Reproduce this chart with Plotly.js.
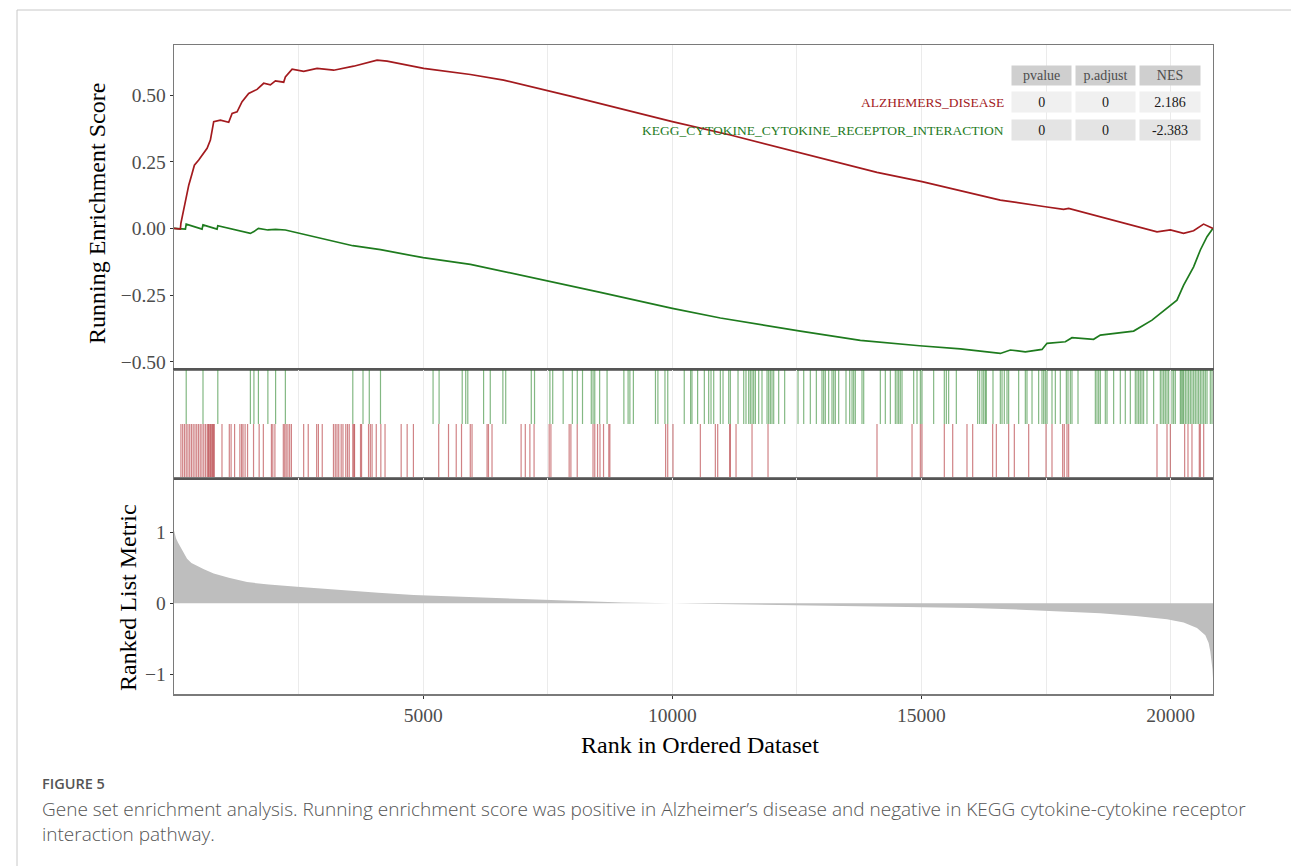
<!DOCTYPE html>
<html>
<head>
<meta charset="utf-8">
<script src="https://cdn.plot.ly/plotly-3.0.1.min.js"></script>
<style>html,body{margin:0;padding:0;background:#fff;}#chart{width:1291px;height:866px;}</style>
</head>
<body>
<div id="chart"></div>
<script>
// ---------------- data ----------------
const nGenes = 20851;
const xTickVals = [5000, 10000, 15000, 20000];
const xTickText = ['5000', '10000', '15000', '20000'];
const esTickVals = [-0.5, -0.25, 0, 0.25, 0.5];
const esTickText = ['\u22120.50', '\u22120.25', '0.00', '0.25', '0.50'];
const metricTickVals = [-1, 0, 1];
const metricTickText = ['\u22121', '0', '1'];

const setNames = ['ALZHEMERS_DISEASE', 'KEGG_CYTOKINE_CYTOKINE_RECEPTOR_INTERACTION'];
const tableHeader = ['pvalue', 'p.adjust', 'NES'];
const pvalues = ['0', '0'];
const padjust = ['0', '0'];
const nes = ['2.186', '-2.383'];

// running enrichment score, Alzheimer's disease
const esRedRank = [0, 128, 139, 195, 249, 296, 363, 409, 496, 596, 664, 730, 797, 931, 1098, 1166, 1266, 1366, 1499, 1667, 1800, 1934, 2035, 2201, 2235, 2370, 2603, 2871, 3205, 3606, 3941, 4075, 4276, 5011, 5948, 6616, 7954, 9160, 10000, 11165, 12405, 14108, 15011, 16582, 17486, 17853, 17954, 19727, 19995, 20260, 20461, 20662, 20851];
const esRedVal = [0, -0.003, 0.02, 0.075, 0.118, 0.162, 0.206, 0.237, 0.256, 0.281, 0.30, 0.331, 0.40, 0.406, 0.398, 0.431, 0.437, 0.475, 0.506, 0.521, 0.544, 0.538, 0.553, 0.548, 0.568, 0.597, 0.589, 0.600, 0.593, 0.608, 0.625, 0.631, 0.627, 0.600, 0.577, 0.556, 0.496, 0.44, 0.40, 0.35, 0.29, 0.21, 0.175, 0.106, 0.081, 0.071, 0.075, -0.013, -0.006, -0.019, -0.009, 0.016, 0.0];

// running enrichment score, KEGG cytokine-cytokine receptor interaction
const esGreenRank = [0, 229, 245, 563, 582, 864, 879, 1533, 1604, 1694, 1884, 2039, 2235, 3072, 3588, 4144, 5000, 5948, 7553, 8557, 10000, 10965, 12570, 13774, 14960, 15782, 16583, 16784, 17085, 17420, 17520, 17888, 18021, 18455, 18590, 19258, 19627, 19928, 20128, 20262, 20462, 20597, 20731, 20851];
const esGreenVal = [0, -0.003, 0.016, -0.003, 0.013, -0.003, 0.01, -0.019, -0.012, 0.0, -0.006, -0.004, -0.006, -0.044, -0.065, -0.08, -0.11, -0.135, -0.198, -0.24, -0.30, -0.336, -0.385, -0.42, -0.44, -0.452, -0.469, -0.456, -0.463, -0.454, -0.431, -0.425, -0.41, -0.416, -0.40, -0.385, -0.344, -0.30, -0.269, -0.213, -0.144, -0.081, -0.031, 0.0];

// gene hit positions in the ranked list
const redHits = [139, 174, 210, 245, 280, 315, 350, 385, 421, 456, 491, 526, 561, 597, 632, 667, 688, 702, 723, 737, 759, 773, 794, 808, 963, 1110, 1146, 1216, 1322, 1357, 1385, 1427, 1476, 1596, 1709, 1793, 1955, 1983, 2025, 2194, 2222, 2251, 2286, 2321, 2356, 2602, 2694, 2863, 2898, 2975, 3200, 3236, 3271, 3306, 3355, 3391, 3447, 3482, 3517, 3588, 3609, 3623, 3743, 3764, 3904, 3940, 3975, 4059, 4151, 4235, 4559, 4679, 4805, 5312, 5509, 5664, 5770, 5946, 5981, 6283, 6311, 6382, 6966, 7050, 7142, 7226, 7529, 7564, 7930, 7965, 8092, 8409, 8444, 8500, 8549, 8620, 8726, 8747, 9866, 9908, 10014, 10563, 10864, 10911, 11152, 11165, 11279, 11600, 11921, 14108, 14811, 14978, 15011, 15459, 15627, 15914, 16028, 16429, 16503, 16750, 16864, 17152, 17500, 17620, 17834, 17867, 17921, 17954, 19727, 19928, 19995, 20282, 20349, 20429, 20576, 20597, 20664];
const greenHits = [245, 582, 879, 1533, 1604, 1694, 1884, 2039, 2235, 3588, 3793, 3919, 4144, 5199, 5320, 5784, 5854, 5896, 6213, 6347, 6600, 6657, 7170, 7235, 7544, 7600, 7810, 7994, 8093, 8198, 8374, 8410, 8444, 8542, 8691, 9028, 9113, 9149, 9219, 9662, 9711, 9853, 9909, 10240, 10367, 10395, 10508, 10643, 10730, 10777, 10831, 10964, 11018, 11132, 11165, 11319, 11433, 11479, 11533, 11566, 11600, 11633, 11667, 11734, 11800, 11901, 11934, 11968, 12001, 12035, 12135, 12255, 12523, 12637, 12770, 12891, 13004, 13038, 13071, 13138, 13205, 13239, 13272, 13339, 13486, 13560, 13607, 13640, 13673, 13807, 13841, 14175, 14275, 14376, 14476, 14510, 14543, 14576, 14610, 14844, 14911, 14978, 15011, 15245, 15459, 15500, 15546, 15700, 16128, 16168, 16215, 16249, 16282, 16302, 16436, 16583, 16617, 16663, 16717, 16750, 16951, 17085, 17118, 17219, 17352, 17419, 17453, 17486, 17520, 17620, 17687, 17787, 17908, 17941, 17988, 18021, 18142, 18490, 18523, 18557, 18590, 18690, 18724, 18857, 18991, 19091, 19192, 19292, 19325, 19359, 19392, 19426, 19459, 19526, 19660, 19794, 19827, 19861, 19894, 19928, 19961, 20028, 20061, 20095, 20195, 20215, 20242, 20262, 20296, 20329, 20362, 20396, 20429, 20463, 20496, 20530, 20563, 20597, 20630, 20664, 20697, 20731, 20797, 20831];

// ranked list metric
const metricRank = [1, 14, 40, 80, 128, 190, 262, 350, 462, 600, 797, 1100, 1466, 1900, 2470, 3000, 3473, 4100, 4810, 5500, 6148, 7000, 7500, 8300, 9000, 10000, 11000, 12000, 13500, 15000, 16000, 17000, 18000, 18590, 19300, 19928, 20262, 20530, 20697, 20764, 20797, 20825, 20840, 20851];
const metricVal = [1.03, 0.99, 0.92, 0.86, 0.80, 0.71, 0.63, 0.57, 0.525, 0.48, 0.42, 0.36, 0.30, 0.265, 0.235, 0.205, 0.18, 0.15, 0.117, 0.10, 0.085, 0.062, 0.05, 0.03, 0.012, 0.0, -0.01, -0.02, -0.035, -0.05, -0.065, -0.09, -0.115, -0.14, -0.18, -0.226, -0.27, -0.35, -0.45, -0.56, -0.68, -0.82, -0.93, -1.06];

// ---------------- styling / layout ----------------
const W = 1291, H = 866;
const PX = p => p / W;
const PY = p => 1 - p / H;
const RED = '#A31A1E', GREEN = '#1E7B1E';
const serif = 'Liberation Serif, Times New Roman, serif';
const GRID = '#EBEBEB', BORDER = '#7a7a7a';

const traces = [
  {type: 'scatter', mode: 'lines', x: metricRank, y: metricVal, xaxis: 'x3', yaxis: 'y3',
   fill: 'tozeroy', fillcolor: '#BEBEBE', line: {width: 0, color: '#BEBEBE'}, hoverinfo: 'skip'},
  {type: 'bar', x: redHits, y: redHits.map(() => 1), base: 0, width: 24, xaxis: 'x2', yaxis: 'y2',
   marker: {color: 'rgba(170,30,34,0.55)', line: {width: 0}}, hoverinfo: 'skip'},
  {type: 'bar', x: greenHits, y: greenHits.map(() => 1), base: 1, width: 24, xaxis: 'x2', yaxis: 'y2',
   marker: {color: 'rgba(30,125,30,0.55)', line: {width: 0}}, hoverinfo: 'skip'},
  {type: 'scatter', mode: 'lines', x: esGreenRank, y: esGreenVal, name: setNames[1],
   line: {color: GREEN, width: 1.7}, xaxis: 'x', yaxis: 'y'},
  {type: 'scatter', mode: 'lines', x: esRedRank, y: esRedVal, name: setNames[0],
   line: {color: RED, width: 1.7}, xaxis: 'x', yaxis: 'y'}
];

const xBase = {
  domain: [PX(174), PX(1213)], range: [0, nGenes], showgrid: true, gridcolor: GRID, gridwidth: 1,
  tickvals: xTickVals, ticktext: xTickText, zeroline: false,
  showline: true, mirror: true, linecolor: BORDER, linewidth: 1.3,
  minor: {dtick: 2500, tick0: 0, showgrid: true, gridcolor: GRID, gridwidth: 1, ticks: ''},
  fixedrange: true
};
const yBase = {zeroline: false, showgrid: false, showline: true, mirror: true, linecolor: BORDER, linewidth: 1.3, fixedrange: true};
const tickFont = {family: serif, size: 19.5, color: '#4D4D4D'};

const annotations = [];
function ann(text, px, py, o) {
  annotations.push(Object.assign({xref: 'paper', yref: 'paper', x: PX(px), y: PY(py), text: text,
    showarrow: false, xanchor: 'center', yanchor: 'middle'}, o || {}));
}
// axis titles
ann('Running Enrichment Score', 97, 214, {textangle: -90, font: {family: serif, size: 24, color: '#000'}});
ann('Ranked List Metric', 128, 598, {textangle: -90, font: {family: serif, size: 24, color: '#000'}});
ann('Rank in Ordered Dataset', 700, 745, {font: {family: serif, size: 24, color: '#000'}});

// table
const colCx = [1041.4, 1105.5, 1170];
const colW = [59.3, 59, 60];
const rowCy = [102.3, 130];
const rowBg = ['#F0F0F0', '#E4E4E4'];
const tblFont = {family: serif, size: 14, color: '#1a1a1a'};
tableHeader.forEach((h, i) => ann(h, colCx[i], 75.3, {width: colW[i] - 2, height: 16.6, borderpad: 1, bgcolor: '#CFCFCF',
  font: {family: serif, size: 14, color: '#4D4D4D'}}));
const rowsVals = [[pvalues[0], padjust[0], nes[0]], [pvalues[1], padjust[1], nes[1]]];
rowsVals.forEach((row, r) => row.forEach((v, i) => ann(v, colCx[i], rowCy[r], {width: colW[i] - 2, height: 18, borderpad: 1,
  bgcolor: rowBg[r], font: tblFont})));
ann(setNames[0], 1006, rowCy[0], {xanchor: 'right', font: {family: serif, size: 13.5, color: RED}});
ann(setNames[1], 1006, rowCy[1], {xanchor: 'right', font: {family: serif, size: 13.5, color: GREEN}});

// caption
const capFont = 'Open Sans, Noto Sans, sans-serif';
ann('FIGURE 5', 40, 783, {xanchor: 'left', font: {family: capFont, size: 14.5, color: '#555', weight: 600}});
ann('Gene set enrichment analysis. Running enrichment score was positive in Alzheimer\u2019s disease and negative in KEGG cytokine-cytokine receptor',
  40, 809, {xanchor: 'left', font: {family: capFont, size: 19, color: '#555', weight: 300}});
ann('interaction pathway.', 40, 834, {xanchor: 'left', font: {family: capFont, size: 19, color: '#555', weight: 300}});

const layout = {
  width: W, height: H, margin: {l: 0, r: 0, t: 0, b: 0}, paper_bgcolor: '#fff', plot_bgcolor: '#fff',
  showlegend: false, barmode: 'overlay', font: {family: serif},
  xaxis: Object.assign({}, xBase, {anchor: 'y', showticklabels: false, ticks: ''}),
  xaxis2: Object.assign({}, xBase, {anchor: 'y2', matches: 'x', showticklabels: false, ticks: '', linecolor: '#555', linewidth: 1.8}),
  xaxis3: Object.assign({}, xBase, {anchor: 'y3', matches: 'x', showticklabels: true, ticks: 'outside', ticklen: 3,
    tickcolor: '#333', tickfont: tickFont}),
  yaxis: Object.assign({}, yBase, {domain: [PY(370), PY(45)], range: [-0.531, 0.6875], tickvals: esTickVals, ticktext: esTickText,
    ticks: 'outside', ticklen: 3, tickcolor: '#333', tickfont: tickFont}),
  yaxis2: Object.assign({}, yBase, {domain: [PY(478), PY(370)], range: [0, 2], showticklabels: false, ticks: ''}),
  yaxis3: Object.assign({}, yBase, {domain: [PY(694.3), PY(478)], range: [-1.285, 1.77], tickvals: metricTickVals, ticktext: metricTickText,
    ticks: 'outside', ticklen: 3, tickcolor: '#333', tickfont: tickFont}),
  annotations: annotations,
  shapes: [
    {type: 'line', xref: 'paper', yref: 'paper', x0: PX(17), x1: 1, y0: PY(10), y1: PY(10), line: {color: '#C8C8C8', width: 1}},
    {type: 'line', xref: 'paper', yref: 'paper', x0: PX(17), x1: PX(17), y0: PY(10), y1: 0, line: {color: '#C8C8C8', width: 1}}
  ]
};

Plotly.newPlot('chart', traces, layout, {displayModeBar: false, staticPlot: true});
</script>
</body>
</html>
